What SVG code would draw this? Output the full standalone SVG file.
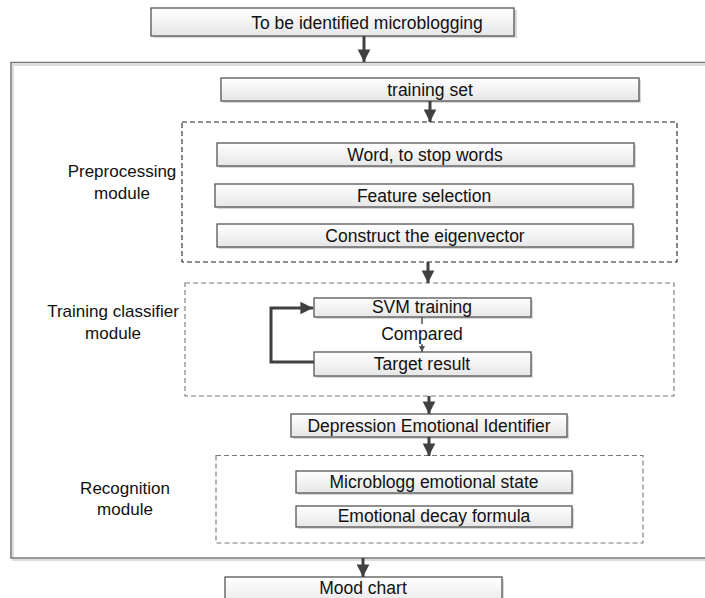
<svg xmlns="http://www.w3.org/2000/svg" width="705" height="598" viewBox="0 0 705 598">
<defs>
<linearGradient id="g" x1="0" y1="0" x2="0" y2="1">
<stop offset="0" stop-color="#ffffff"/>
<stop offset="1" stop-color="#e6e6e6"/>
</linearGradient>
<marker id="ah" viewBox="0 0 10 10" refX="10" refY="5" markerWidth="4.2" markerHeight="5" markerUnits="strokeWidth" orient="auto">
<path d="M0,0 L10,5 L0,10 Z" fill="#404040"/>
</marker>
<marker id="ahs" viewBox="0 0 10 10" refX="10" refY="5" markerWidth="6" markerHeight="6" markerUnits="userSpaceOnUse" orient="auto">
<path d="M0,0 L10,5 L0,10 Z" fill="#505050"/>
</marker>
</defs>
<style>
.box{fill:url(#g);stroke:#555;stroke-width:1.3}
.sh{fill:#d9d9d9}
.t{font-family:"Liberation Sans",Arial,sans-serif;font-size:17.5px;fill:#111;text-anchor:middle}
.lbl{font-family:"Liberation Sans",Arial,sans-serif;font-size:17px;fill:#111;text-anchor:middle}
.dk{fill:none;stroke:#222;stroke-width:1.1;stroke-dasharray:5,3}
.dg{fill:none;stroke:#777;stroke-width:1.1;stroke-dasharray:5,3}
.ar{fill:none;stroke:#404040;stroke-width:3;marker-end:url(#ah)}
</style>
<rect width="705" height="598" fill="#ffffff"/>

<g id="outer">
<rect x="13" y="65" width="700" height="495" fill="none" stroke="#dddddd" stroke-width="2"/>
<rect x="11" y="62.5" width="700" height="495.5" fill="none" stroke="#777" stroke-width="1.5"/>
</g>

<g id="preprocessing-module">
<rect x="182" y="122" width="495" height="140" class="dk"/>
<text x="122" y="177" class="lbl">Preprocessing</text>
<text x="122" y="199" class="lbl">module</text>
</g>
<g id="training-module">
<rect x="185" y="283" width="489" height="113" class="dg"/>
<text x="113" y="317" class="lbl">Training classifier</text>
<text x="113" y="339" class="lbl">module</text>
</g>
<g id="recognition-module">
<rect x="216" y="455.5" width="427" height="87.5" class="dg"/>
<text x="125" y="494" class="lbl">Recognition</text>
<text x="125" y="515" class="lbl">module</text>
</g>

<g id="n-title">
<rect x="153" y="10" width="364" height="28" class="sh"/>
<rect x="151" y="8" width="363" height="28" class="box"/>
<text x="367" y="28.5" class="t" font-size="19">To be identified microblogging</text>
</g>
<g id="n-training-set">
<rect x="223" y="80" width="418" height="23" class="sh"/>
<rect x="221" y="78" width="418" height="23" class="box"/>
<text x="430" y="95.5" class="t">training set</text>
</g>
<g id="n-word">
<rect x="219" y="145" width="417" height="23" class="sh"/>
<rect x="217" y="143" width="417" height="23" class="box"/>
<text x="425" y="160.5" class="t">Word, to stop words</text>
</g>
<g id="n-feature">
<rect x="217" y="186" width="418" height="23" class="sh"/>
<rect x="215" y="184" width="418" height="23" class="box"/>
<text x="424" y="201.5" class="t">Feature selection</text>
</g>
<g id="n-construct">
<rect x="219" y="226" width="416" height="23" class="sh"/>
<rect x="217" y="224" width="416" height="23" class="box"/>
<text x="425" y="241.5" class="t">Construct the eigenvector</text>
</g>
<g id="n-svm">
<rect x="316" y="300" width="217" height="19" class="sh"/>
<rect x="314" y="298" width="217" height="19" class="box"/>
<text x="422" y="313" class="t">SVM training</text>
</g>
<g id="n-compared">
<text x="422" y="340" class="t">Compared</text>
</g>
<g id="n-target">
<rect x="316" y="354" width="217" height="24" class="sh"/>
<rect x="314" y="352" width="217" height="24" class="box"/>
<text x="422" y="369.5" class="t">Target result</text>
</g>
<g id="n-depression">
<rect x="293" y="416" width="276" height="23" class="sh"/>
<rect x="291" y="414" width="276" height="23" class="box"/>
<text x="429" y="431.5" class="t">Depression Emotional Identifier</text>
</g>
<g id="n-microblogg">
<rect x="298" y="473" width="276" height="22" class="sh"/>
<rect x="296" y="471" width="276" height="22" class="box"/>
<text x="434" y="488" class="t">Microblogg emotional state</text>
</g>
<g id="n-decay">
<rect x="298" y="508" width="276" height="21" class="sh"/>
<rect x="296" y="506" width="276" height="21" class="box"/>
<text x="434" y="522" class="t">Emotional decay formula</text>
</g>
<g id="n-mood">
<rect x="227" y="579" width="277" height="30" class="sh"/>
<rect x="225" y="577" width="277" height="30" class="box"/>
<text x="363" y="594" class="t">Mood chart</text>
</g>

<g id="connectors">
<line x1="364" y1="36" x2="364" y2="62" class="ar"/>
<line x1="430" y1="101" x2="430" y2="122" class="ar"/>
<line x1="428" y1="262" x2="428" y2="283" class="ar"/>
<line x1="422" y1="317" x2="422" y2="324" stroke="#505050" stroke-width="1.5"/>
<line x1="422" y1="344" x2="422" y2="352" stroke="#505050" stroke-width="1.5" marker-end="url(#ahs)"/>
<polyline points="314,362 271,362 271,308 313,308" class="ar"/>
<line x1="429" y1="396" x2="429" y2="414" class="ar"/>
<line x1="429" y1="437" x2="429" y2="456" class="ar"/>
<line x1="363" y1="558" x2="363" y2="577" class="ar"/>
</g>
</svg>
